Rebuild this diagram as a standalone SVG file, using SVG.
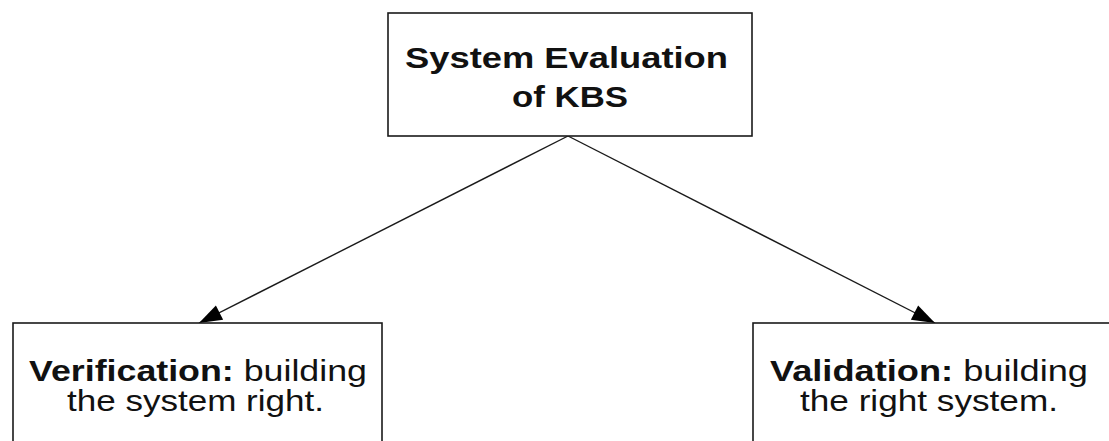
<svg xmlns="http://www.w3.org/2000/svg" width="1109" height="441" viewBox="0 0 1109 441">
  <style>
    .box { fill: #ffffff; stroke: #1a1a1a; stroke-width: 1.6; }
    .edge { stroke: #1a1a1a; stroke-width: 1.4; fill: none; }
    .lbl { font-family: "Liberation Sans", Arial, sans-serif; font-size: 30px; fill: #111111; }
    .b { font-weight: bold; }
  </style>
  <defs>
    <marker id="arrow" viewBox="-24 -9 26 18" refX="0" refY="0" markerWidth="26" markerHeight="18" markerUnits="userSpaceOnUse" orient="auto">
      <path d="M0,0 L-23,-8 L-23,8 Z" fill="#000000"/>
    </marker>
  </defs>
  <rect width="1109" height="441" fill="#ffffff"/>

  <!-- connectors -->
  <g id="connectors">
    <line class="edge" x1="568" y1="136" x2="199" y2="323" marker-end="url(#arrow)"/>
    <line class="edge" x1="568" y1="136" x2="935" y2="323" marker-end="url(#arrow)"/>
  </g>

  <!-- root -->
  <g id="node-system-evaluation">
    <rect class="box" x="388" y="13" width="364" height="123"/>
    <text class="lbl b" x="405" y="68" textLength="323" lengthAdjust="spacingAndGlyphs">System Evaluation</text>
    <text class="lbl b" x="512" y="107" textLength="116" lengthAdjust="spacingAndGlyphs">of KBS</text>
  </g>

  <!-- left child -->
  <g id="node-verification">
    <rect class="box" x="13" y="323" width="369" height="130"/>
    <text class="lbl" x="29" y="381" textLength="338" lengthAdjust="spacingAndGlyphs"><tspan class="b">Verification:</tspan> building</text>
    <text class="lbl" x="67" y="411" textLength="257" lengthAdjust="spacingAndGlyphs">the system right.</text>
  </g>

  <!-- right child -->
  <g id="node-validation">
    <rect class="box" x="753" y="323" width="369" height="130"/>
    <text class="lbl" x="770" y="381" textLength="318" lengthAdjust="spacingAndGlyphs"><tspan class="b">Validation:</tspan> building</text>
    <text class="lbl" x="800" y="411" textLength="258" lengthAdjust="spacingAndGlyphs">the right system.</text>
  </g>
</svg>
